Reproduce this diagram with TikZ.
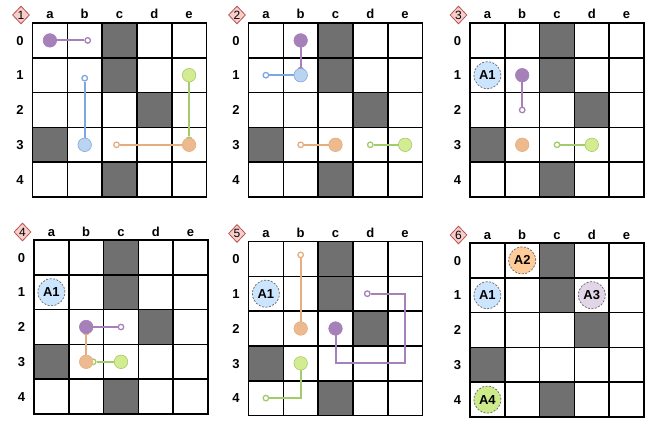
\documentclass[tikz,border=0pt]{standalone}
\usepackage{fontspec}
\setmainfont{Liberation Sans}
\usetikzlibrary{shapes.geometric}
\definecolor{wallgray}{HTML}{707070}
\definecolor{tagred}{HTML}{B85450}
\definecolor{tagpink}{HTML}{F8CECC}
\definecolor{dashgray}{HTML}{666666}
\definecolor{purline}{HTML}{A680B8}
\definecolor{purfill}{HTML}{A680B8}
\definecolor{bluline}{HTML}{7EA6E0}
\definecolor{blufill}{HTML}{BAD3EE}
\definecolor{orgline}{HTML}{E6AD7E}
\definecolor{orgfill}{HTML}{EDBA8F}
\definecolor{grnline}{HTML}{A3CB6C}
\definecolor{grnfill}{HTML}{D3EC92}
\definecolor{parkA}{HTML}{CCE5FF}
\definecolor{parkB}{HTML}{FFCC99}
\definecolor{parkC}{HTML}{E1D5E7}
\definecolor{parkD}{HTML}{CDEB8B}
\tikzset{
  wall/.style={fill=wallgray},
  gridline/.style={line width=1.6pt, black, line cap=rect},
  collabel/.style={font=\bfseries\fontsize{13}{15}\selectfont, anchor=base, inner sep=0pt},
  rowlabel/.style={font=\bfseries\fontsize{13}{15}\selectfont, anchor=base, inner sep=0pt},
  steptag/.style={diamond, draw=tagred, fill=tagpink, line width=0.8pt, inner sep=0pt, minimum width=17pt, minimum height=18pt, font=\fontsize{12}{12}\selectfont},
  agent/.style={circle, inner sep=0pt, minimum size=13.5pt, line width=0.6pt},
  goal/.style={circle, fill=white, inner sep=0pt, minimum size=5.5pt, line width=1.3pt},
  trail/.style={line width=2pt},
  parked/.style={circle, draw=dashgray, dashed, dash pattern=on 2pt off 1.5pt, line width=0.7pt, fill=#1, minimum size=27pt, inner sep=0pt, font=\bfseries\fontsize{13}{15}\selectfont}
}
\newcommand{\cellsz}{34.8}
% one 5x5 board: name, x, y, step number
\newcommand{\gridpanel}[4]{%
  \begin{scope}[shift={(#2,#3)}]
    \fill[white] (0,0) rectangle (5*\cellsz,5*\cellsz);
    \foreach \cx/\ry in {2/0,2/1,3/2,0/3,2/4}
      \fill[wall] (\cx*\cellsz,\ry*\cellsz) rectangle ++(\cellsz,\cellsz);
    \foreach \k in {0,...,5}{
      \draw[gridline] (\k*\cellsz,0) -- (\k*\cellsz,5*\cellsz);
      \draw[gridline] (0,\k*\cellsz) -- (5*\cellsz,\k*\cellsz);
    }
    \foreach \colname [count=\i from 0] in {a,b,c,d,e}{
      \node[collabel] (#1-\colname) at ({(\i+0.5)*\cellsz},-4) {\colname};
      \foreach \rowno in {0,...,4}
        \coordinate (#1-\colname\rowno) at ({(\i+0.5)*\cellsz},{(\rowno+0.5)*\cellsz});
    }
    \foreach \rowno in {0,...,4}
      \node[rowlabel] (#1-r\rowno) at (-12.5,{(\rowno+0.5)*\cellsz+4.7}) {\rowno};
    \node[steptag] (#1-tag) at (-11.5,-8) {#4};
  \end{scope}}

\begin{document}
\begin{tikzpicture}[x=1pt, y=-1pt]
\useasboundingbox (0,0) rectangle (650,422);

\gridpanel{p1}{32.5}{23}{1}
\gridpanel{p2}{248.5}{23}{2}
\gridpanel{p3}{470}{23}{3}
\gridpanel{p4}{34}{240}{4}
\gridpanel{p5}{248.5}{241.5}{5}
\gridpanel{p6}{470}{243}{6}

% step 1
\node[goal, draw=purline] (p1-purgoal) at ([xshift=3pt]p1-b0) {};
\node[goal, draw=bluline] (p1-blugoal) at ([yshift=-3pt]p1-b1) {};
\node[goal, draw=grnline] (p1-grngoal) at ([yshift=5pt]p1-e3) {};
\node[goal, draw=orgline] (p1-orggoal) at ([xshift=-3pt]p1-c3) {};
\draw[trail, purline] (p1-a0) -- (p1-purgoal);
\draw[trail, bluline] (p1-b3) -- (p1-blugoal);
\draw[trail, grnline] (p1-e1) -- (p1-grngoal);
\draw[trail, orgline] (p1-e3) -- (p1-orggoal);
\node[agent, draw=purline, fill=purfill] (p1-pur) at (p1-a0) {};
\node[agent, draw=bluline, fill=blufill] (p1-blu) at (p1-b3) {};
\node[agent, draw=grnline, fill=grnfill] (p1-grn) at (p1-e1) {};
\node[agent, draw=orgline, fill=orgfill] (p1-org) at (p1-e3) {};

% step 2
\node[goal, draw=purline] (p2-purgoal) at ([yshift=5pt]p2-b1) {};
\node[goal, draw=bluline] (p2-blugoal) at (p2-a1) {};
\node[goal, draw=orgline] (p2-orggoal) at (p2-b3) {};
\node[goal, draw=grnline] (p2-grngoal) at (p2-d3) {};
\draw[trail, purline] (p2-b0) -- (p2-purgoal);
\draw[trail, bluline] (p2-b1) -- (p2-blugoal);
\draw[trail, orgline] (p2-c3) -- (p2-orggoal);
\draw[trail, grnline] (p2-e3) -- (p2-grngoal);
\node[agent, draw=purline, fill=purfill] (p2-pur) at (p2-b0) {};
\node[agent, draw=bluline, fill=blufill] (p2-blu) at (p2-b1) {};
\node[agent, draw=orgline, fill=orgfill] (p2-org) at (p2-c3) {};
\node[agent, draw=grnline, fill=grnfill] (p2-grn) at (p2-e3) {};

% step 3
\node[parked=parkA] (p3-A1) at (p3-a1) {A1};
\node[goal, draw=purline] (p3-purgoal) at (p3-b2) {};
\node[goal, draw=grnline] (p3-grngoal) at (p3-c3) {};
\draw[trail, purline] (p3-b1) -- (p3-purgoal);
\draw[trail, grnline] (p3-d3) -- (p3-grngoal);
\node[agent, draw=purline, fill=purfill] (p3-pur) at (p3-b1) {};
\node[agent, draw=orgline, fill=orgfill] (p3-org) at (p3-b3) {};
\node[agent, draw=grnline, fill=grnfill] (p3-grn) at (p3-d3) {};

% step 4
\node[parked=parkA] (p4-A1) at (p4-a1) {A1};
\node[goal, draw=purline] (p4-purgoal) at (p4-c2) {};
\node[goal, draw=orgline] (p4-orggoal) at ([yshift=-5pt]p4-b2) {};
\node[goal, draw=grnline] (p4-grngoal) at ([xshift=7pt]p4-b3) {};
\draw[trail, purline] (p4-b2) -- (p4-purgoal);
\draw[trail, orgline] (p4-b3) -- (p4-orggoal);
\draw[trail, grnline] (p4-c3) -- (p4-grngoal);
\node[agent, draw=purline, fill=purfill] (p4-pur) at (p4-b2) {};
\node[agent, draw=orgline, fill=orgfill] (p4-org) at (p4-b3) {};
\node[agent, draw=grnline, fill=grnfill] (p4-grn) at (p4-c3) {};

% step 5
\node[parked=parkA] (p5-A1) at (p5-a1) {A1};
\node[goal, draw=orgline] (p5-orggoal) at ([yshift=4pt]p5-b0) {};
\node[goal, draw=purline] (p5-purgoal) at ([xshift=-3pt]p5-d1) {};
\node[goal, draw=grnline] (p5-grngoal) at (p5-a4) {};
\draw[trail, orgline] (p5-b2) -- (p5-orggoal);
\draw[trail, purline] (p5-c2) |- (p5-e3) |- (p5-purgoal);
\draw[trail, grnline] (p5-b3) |- (p5-grngoal);
\node[agent, draw=orgline, fill=orgfill] (p5-org) at (p5-b2) {};
\node[agent, draw=purline, fill=purfill] (p5-pur) at (p5-c2) {};
\node[agent, draw=grnline, fill=grnfill] (p5-grn) at (p5-b3) {};

% step 6
\node[parked=parkA] (p6-A1) at (p6-a1) {A1};
\node[parked=parkB] (p6-A2) at (p6-b0) {A2};
\node[parked=parkC] (p6-A3) at (p6-d1) {A3};
\node[parked=parkD] (p6-A4) at (p6-a4) {A4};
\end{tikzpicture}
\end{document}
